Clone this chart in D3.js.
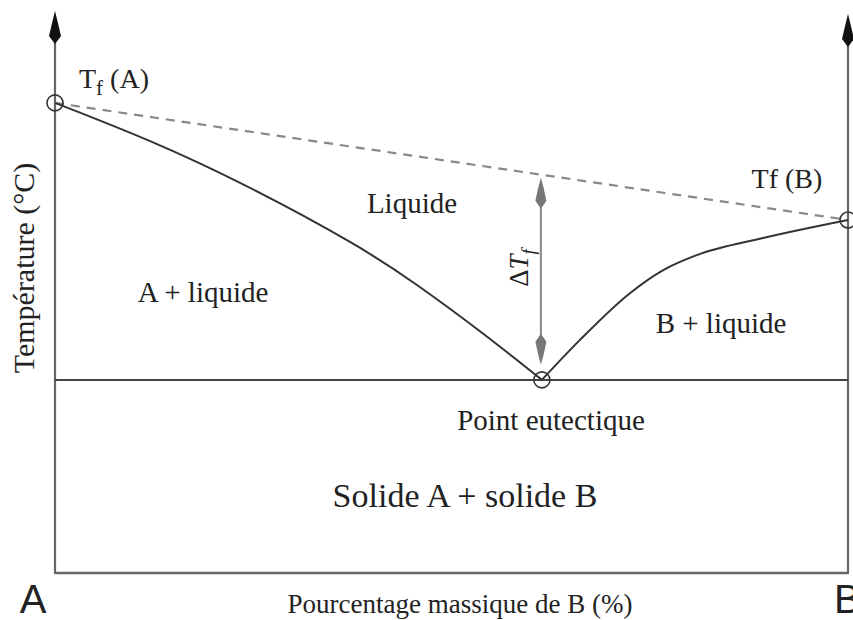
<!DOCTYPE html>
<html>
<head>
<meta charset="utf-8">
<title>Diagramme binaire eutectique</title>
<script src="https://d3js.org/d3.v7.min.js"></script>
<style>
  body { margin: 0; background: white; }
  .lbl { font-family: "Liberation Serif", "DejaVu Serif", serif; fill: #222; }
  .sans { font-family: "Liberation Sans", "DejaVu Sans", sans-serif; fill: #222; }
</style>
</head>
<body>
<div id="chart"></div>
<script>
// x = % massique de B, y = temperature (arbitrary units)
var liquidusA = [[0, 83.5], [12, 76.7], [24.6, 68.4], [37.2, 58.8], [45.6, 51.2], [54, 42.5], [61.4, 34.3]];
var liquidusB = [[61.4, 34.3], [66.2, 41.4], [72.5, 49.7], [76.7, 53.8], [81, 56.5], [89.3, 59.5], [100, 62.7]];
var tfA = [0, 83.5];
var tfB = [100, 62.7];
var eutectic = [61.4, 34.3];
var deltaTf = [61.4, 70.2, 37];   // x, top, bottom of the ΔTf arrow

var width = 853, height = 620;
var svg = d3.select("#chart").append("svg")
  .attr("width", width).attr("height", height);

var x = d3.scaleLinear().domain([0, 100]).range([55, 848]);
var y = d3.scaleLinear().domain([0, 100]).range([573, 10]);

// frame / axes
var axisCol = "#666";
svg.append("line").attr("x1", x(0)).attr("x2", x(0)).attr("y1", y(0) + 1).attr("y2", 40)
  .attr("stroke", axisCol).attr("stroke-width", 2.2);
svg.append("line").attr("x1", x(100)).attr("x2", x(100)).attr("y1", y(0) + 1).attr("y2", 40)
  .attr("stroke", axisCol).attr("stroke-width", 2.2);
svg.append("line").attr("x1", x(0)).attr("x2", x(100)).attr("y1", y(0)).attr("y2", y(0))
  .attr("stroke", axisCol).attr("stroke-width", 2.4);

// arrow heads on the vertical axes
function arrowHead(cx, tip) {
  var p = d3.path();
  p.moveTo(cx, tip);
  p.quadraticCurveTo(cx + 3, tip + 12, cx + 6, tip + 25);
  p.lineTo(cx, tip + 33);
  p.lineTo(cx - 6, tip + 25);
  p.quadraticCurveTo(cx - 3, tip + 12, cx, tip);
  p.closePath();
  svg.append("path").attr("d", p.toString()).attr("fill", "#111");
}
arrowHead(x(0), 11);
arrowHead(x(100), 14);

// eutectic horizontal
svg.append("line").attr("x1", x(0)).attr("x2", x(100))
  .attr("y1", y(eutectic[1])).attr("y2", y(eutectic[1]))
  .attr("stroke", "#444").attr("stroke-width", 2);

// dashed ideal line
svg.append("line").attr("x1", x(tfA[0])).attr("y1", y(tfA[1]))
  .attr("x2", x(tfB[0])).attr("y2", y(tfB[1]))
  .attr("stroke", "#888").attr("stroke-width", 2.2).attr("stroke-dasharray", "9,7");

// liquidus curves
var line = d3.line().x(function(d) { return x(d[0]); }).y(function(d) { return y(d[1]); })
  .curve(d3.curveNatural);
svg.append("path").datum(liquidusA).attr("d", line)
  .attr("fill", "none").attr("stroke", "#333").attr("stroke-width", 2);
svg.append("path").datum(liquidusB).attr("d", line.curve(d3.curveMonotoneX))
  .attr("fill", "none").attr("stroke", "#333").attr("stroke-width", 2);

// ΔTf double arrow
var ax = x(deltaTf[0]) - 1, yTop = y(deltaTf[1]), yBot = y(deltaTf[2]);
svg.append("line").attr("x1", ax).attr("x2", ax).attr("y1", yTop + 10).attr("y2", yBot - 10)
  .attr("stroke", "#888").attr("stroke-width", 2);
function grayHead(tip, dir) {
  var p = d3.path();
  p.moveTo(ax, tip);
  p.quadraticCurveTo(ax + 3, tip + dir * 10, ax + 5.5, tip + dir * 23);
  p.lineTo(ax, tip + dir * 31);
  p.lineTo(ax - 5.5, tip + dir * 23);
  p.quadraticCurveTo(ax - 3, tip + dir * 10, ax, tip);
  svg.append("path").attr("d", p.toString()).attr("fill", "#777");
}
grayHead(yTop, 1);
grayHead(yBot, -1);

// circles
[tfA, tfB, eutectic].forEach(function(d) {
  svg.append("circle").attr("cx", x(d[0])).attr("cy", y(d[1])).attr("r", 8)
    .attr("fill", "none").attr("stroke", "#333").attr("stroke-width", 1.6);
});

// labels
function label(txt, px, py, size, anchor) {
  return svg.append("text").attr("class", "lbl").attr("x", px).attr("y", py)
    .attr("text-anchor", anchor || "middle").style("font-size", size + "px").text(txt);
}
var ta = svg.append("text").attr("class", "lbl").attr("x", 79).attr("y", 88).style("font-size", "28px");
ta.append("tspan").text("T");
ta.append("tspan").attr("dy", 7).style("font-size", "21px").text("f");
ta.append("tspan").attr("dy", -7).text(" (A)");

label("Tf (B)", 787, 188, 28);
label("Liquide", 412, 213, 29);
label("A + liquide", 203, 302, 29);
label("B + liquide", 721, 333, 29);
label("Point eutectique", 551, 430, 29);
label("Solide A + solide B", 465, 507, 34);
label("Pourcentage massique de B (%)", 460, 613, 27);

svg.append("text").attr("class", "lbl").attr("text-anchor", "middle")
  .attr("transform", "translate(34,268) rotate(-90)").style("font-size", "30px")
  .text("Température (°C)");

var dt = svg.append("text").attr("class", "lbl").attr("text-anchor", "middle")
  .attr("transform", "translate(528,268) rotate(-90)").style("font-size", "27px");
dt.append("tspan").text("Δ");
dt.append("tspan").style("font-style", "italic").text("T");
dt.append("tspan").attr("dy", 7).style("font-style", "italic").style("font-size", "19px").text("f");

svg.append("text").attr("class", "sans").attr("x", 33).attr("y", 613)
  .attr("text-anchor", "middle").style("font-size", "40px").text("A");
svg.append("text").attr("class", "sans").attr("x", 834).attr("y", 613)
  .attr("text-anchor", "start").style("font-size", "40px").text("B");
</script>
</body>
</html>
